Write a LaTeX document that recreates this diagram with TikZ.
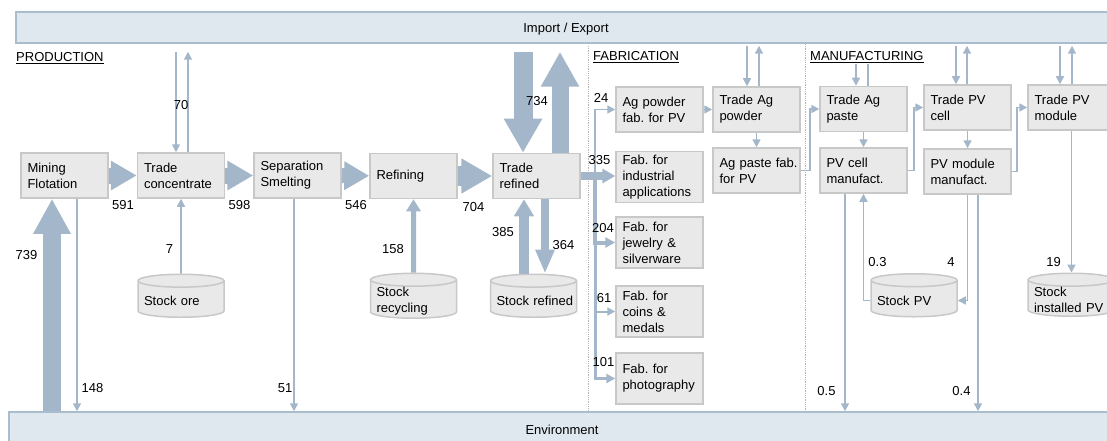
\documentclass[tikz,border=0pt]{standalone}
\usepackage{fontspec}
\setmainfont{Liberation Sans}
\usepackage{xcolor}
\definecolor{flowc}{HTML}{A4B6C9}
\definecolor{boxline}{HTML}{C8C8C8}
\definecolor{boxfill}{HTML}{E9E9E9}
\definecolor{barline}{HTML}{AABDCE}
\definecolor{barfill}{HTML}{E0E8EF}
\definecolor{sepc}{HTML}{B4B4B4}
\usetikzlibrary{arrows.meta,shapes.geometric}
\hbadness=10000 \hfuzz=20pt
\tikzset{
  lbl/.style={font=\fontsize{13}{16}\selectfont,inner sep=0pt},
  proc/.style={draw=boxline,line width=1.5pt,fill=boxfill,minimum width=87pt,minimum height=45pt,
    text width=74pt,inner xsep=6.5pt,align=left,font=\fontsize{13}{16}\selectfont\frenchspacing},
  tall/.style={proc,minimum height=51pt},
  stock/.style={cylinder,shape border rotate=90,aspect=0.15,draw=boxline,line width=1.5pt,fill=boxfill,
    minimum width=86pt,minimum height=43pt,text width=74pt,inner xsep=6pt,inner ysep=0pt,align=left,
    font=\fontsize{13}{16}\selectfont\frenchspacing},
  bar/.style={draw=barline,line width=1.5pt,fill=barfill,minimum height=31pt,text depth=0pt,font=\fontsize{13}{16}\selectfont},
  sect/.style={lbl,anchor=west},
  num/.style={lbl},
  thinar/.style={draw=flowc,line width=1.6pt,-{Triangle[length=8pt,width=8pt]}},
  link/.style={draw=flowc,line width=1.6pt},
  fat/.style={draw=flowc},
  fhead/.style 2 args={-{Triangle[length=#1,width=#2]}},
  sep/.style={draw=sepc,densely dotted,line width=0.8pt},
}
\begin{document}
\begin{tikzpicture}[x=1pt,y=-1pt]
  \useasboundingbox (0,0) rectangle (1107,441);
  % bars and sections
  \node[bar,minimum width=1100pt] (ie) at (566,27.5) {Import / Export};
  \node[bar,minimum width=1106pt,minimum height=36pt] (env) at (562,430) {Environment};
  \draw[sep] (588,46) -- (588,411);
  \draw[sep] (805,44) -- (805,411);
  \node[sect] (prod) at (16,58) {\underline{PRODUCTION}};
  \node[sect] (fab) at (593,57) {\underline{FABRICATION}};
  \node[sect] (manu) at (810,57) {\underline{MANUFACTURING}};
  % production
  \node[proc] (mine) at (64.5,175.5) {Mining\\Flotation};
  \node[proc] (tconc) at (181,175.5) {Trade\\concentrate};
  \node[proc] (smelt) at (297.5,175.5) {Separation\\Smelting};
  \node[proc] (refin) at (413.5,176) {Refining};
  \node[proc] (tref) at (536.5,176) {Trade\\refined};
  \node[stock] (sore) at (181,301) {Stock ore};
  \node[stock] (srec) at (413.5,301) {Stock\\recycling};
  \node[stock] (sref) at (533.5,301) {\mbox{Stock refined}};
  % fabrication
  \node[proc] (fpowder) at (659.5,109.5) {Ag powder\\fab. for PV};
  \node[tall] (find) at (659.5,177) {Fab. for\\industrial\\applications};
  \node[tall] (fjew) at (659.5,242.5) {Fab. for\\jewelry \&\\silverware};
  \node[tall] (fcoin) at (659.5,311.5) {Fab. for\\coins \&\\medals};
  \node[tall] (fphoto) at (659.5,378.5) {Fab. for\\\mbox{photography}};
  % manufacturing
  \node[proc] (tpowder) at (756.5,109.5) {Trade Ag\\powder};
  \node[proc] (fpaste) at (756.5,170.5) {\mbox{Ag paste fab.}\\for PV};
  \node[proc] (tpaste) at (863.5,109) {Trade Ag\\paste};
  \node[proc] (mcell) at (863.5,170.5) {PV cell\\manufact.};
  \node[proc] (tcell) at (967.5,107.5) {Trade PV\\cell};
  \node[proc] (mmod) at (967.5,171.5) {PV module\\manufact.};
  \node[proc] (tmod) at (1071.5,107.5) {Trade PV\\module};
  \node[stock] (spv) at (914,300.5) {Stock PV};
  \node[stock] (sinst) at (1071,300) {Stock\\\mbox{installed PV}};
  % main chain
  \draw[fat,line width=16pt,fhead={26pt}{28pt}] (mine) -- (tconc);
  \draw[fat,line width=16pt,fhead={26pt}{28pt}] (tconc) -- (smelt);
  \draw[fat,line width=15pt,fhead={25pt}{27pt}] (smelt) -- (refin);
  \draw[fat,line width=20pt,fhead={31pt}{33pt}] (refin) -- (tref);
  \draw[fat,line width=18pt,fhead={35pt}{35pt}] ([xshift=-12.5pt]mine.south |- env.north) -- ([xshift=-12.5pt]mine.south);
  \draw[thinar] ([xshift=12.5pt]mine.south) -- ([xshift=12.5pt]mine.south |- env.north);
  \draw[thinar,shorten <=8pt] ([xshift=-5pt]tconc.north |- ie.south) -- ([xshift=-5pt]tconc.north);
  \draw[thinar,shorten >=8pt] ([xshift=7pt]tconc.north) -- ([xshift=7pt]tconc.north |- ie.south);
  \draw[thinar] (sore.north) -- (tconc.south);
  \draw[thinar] ([xshift=-3.5pt]smelt.south) -- ([xshift=-3.5pt]smelt.south |- env.north);
  \draw[fat,line width=5pt,fhead={12pt}{14pt}] (srec.north) -- (refin.south);
  \draw[fat,line width=19pt,fhead={34pt}{36pt},shorten <=8pt] ([xshift=-13.5pt]tref.north |- ie.south) -- ([xshift=-13.5pt]tref.north);
  \draw[fat,line width=17pt,fhead={35pt}{36pt},shorten >=8pt] ([xshift=23.5pt]tref.north) -- ([xshift=23.5pt]tref.north |- ie.south);
  \draw[fat,line width=10pt,fhead={17pt}{19pt}] ([xshift=-12.5pt]tref.south |- sref.north) -- ([xshift=-12.5pt]tref.south);
  \draw[fat,line width=8pt,fhead={24pt}{18pt}] ([xshift=8.5pt]tref.south) -- ([xshift=8.5pt]tref.south |- sref.north);
  % fabrication bus
  \coordinate (bus) at ([xshift=14.5pt]tref.east);
  \draw[fat,line width=8pt,fhead={13pt}{14pt}] (tref.east) -- (tref.east -| find.west);
  \draw[thinar] (bus) |- (fpowder.west);
  \draw[fat,line width=4pt,fhead={10pt}{10pt}] (bus) |- (fjew.west);
  \draw[fat,line width=3pt,fhead={9pt}{9pt}] (bus |- fjew.west) |- (fphoto.west);
  \draw[fat,line width=2pt,fhead={8pt}{8pt}] (bus |- fcoin.west) -- (fcoin.west);
  % manufacturing links
  \draw[thinar] (fpowder) -- (tpowder);
  \draw[thinar,shorten <=2pt] ([xshift=-9.5pt]tpowder.north |- ie.south) -- ([xshift=-9.5pt]tpowder.north);
  \draw[thinar,shorten >=2pt] ([xshift=2.5pt]tpowder.north) -- ([xshift=2.5pt]tpowder.north |- ie.south);
  \draw[thinar] (tpowder) -- (fpaste);
  \draw[thinar] (fpaste.east) -| ([xshift=-9pt]tpaste.west) -- (tpaste.west);
  \draw[thinar,shorten <=1pt] ([xshift=-7.5pt]tpaste.north |- manu.south) -- ([xshift=-7.5pt]tpaste.north);
  \draw[link,shorten >=1pt] ([xshift=4.5pt]tpaste.north) -- ([xshift=4.5pt]tpaste.north |- manu.south);
  \draw[thinar] (tpaste) -- (mcell);
  \draw[thinar] (mcell.east) -| ([xshift=-9pt]tcell.west) -- (tcell.west);
  \draw[thinar,shorten <=2pt] ([xshift=-11.5pt]tcell.north |- ie.south) -- ([xshift=-11.5pt]tcell.north);
  \draw[thinar,shorten >=2pt] ([xshift=-0.5pt]tcell.north) -- ([xshift=-0.5pt]tcell.north |- ie.south);
  \draw[thinar] (tcell) -- (mmod);
  \draw[thinar] (mmod.east) -| ([xshift=-10pt]tmod.west) -- (tmod.west);
  \draw[thinar,shorten <=2pt] ([xshift=-11.5pt]tmod.north |- ie.south) -- ([xshift=-11.5pt]tmod.north);
  \draw[thinar,shorten >=2pt] ([xshift=0.5pt]tmod.north) -- ([xshift=0.5pt]tmod.north |- ie.south);
  \draw[thinar] (tmod.south) -- (tmod.south |- sinst.north);
  \draw[thinar] ([xshift=-18.5pt]mcell.south) -- ([xshift=-18.5pt]mcell.south |- env.north);
  \draw[thinar] (spv.west) -| (mcell.south);
  \draw[thinar] (mmod.south) |- (spv.east);
  \draw[thinar] ([xshift=10.5pt]mmod.south) -- ([xshift=10.5pt]mmod.south |- env.north);
  % flow values
  \node[num] (v591) at (123,205) {591};
  \node[num] (v598) at (239.5,205) {598};
  \node[num] (v546) at (356,205) {546};
  \node[num] (v704) at (473.5,207) {704};
  \node[num] (v739) at (26.5,255.5) {739};
  \node[num] (v148) at (92.5,388.5) {148};
  \node[num] (v70) at (181,105) {70};
  \node[num] (v7) at (169.5,249) {7};
  \node[num] (v51) at (285,388) {51};
  \node[num] (v158) at (393,249) {158};
  \node[num] (v385) at (503,232) {385};
  \node[num] (v364) at (563.5,245) {364};
  \node[num] (v734) at (537,101) {734};
  \node[num] (v24) at (601,97.5) {24};
  \node[num] (v335) at (599.5,160) {335};
  \node[num] (v204) at (603,228) {204};
  \node[num] (v61) at (604,298.5) {61};
  \node[num] (v101) at (603.5,362) {101};
  \node[num] (v19) at (1053.5,262) {19};
  \node[num] (v05) at (826.5,391) {0.5};
  \node[num] (v03) at (877.5,262) {0.3};
  \node[num] (v4) at (951,262) {4};
  \node[num] (v04) at (961.5,391) {0.4};
\end{tikzpicture}
\end{document}
